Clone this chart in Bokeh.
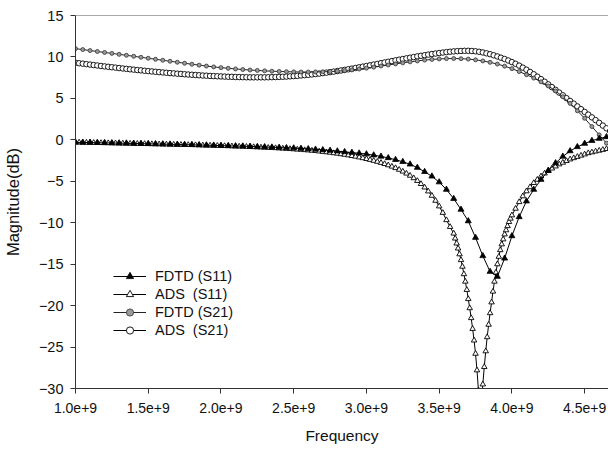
import numpy as np
from bokeh.plotting import figure
from bokeh.models import FixedTicker, Span, Legend, LegendItem
from bokeh.embed import file_html
from bokeh.resources import INLINE

# ---------------- data ----------------
# frequency grids (GHz)
freq_fdtd_ghz = np.round(np.linspace(1.0, 4.7, 75), 3)
freq_ads_s21_ghz = np.round(np.linspace(1.0, 4.7, 149), 3)
freq_ads_s11_ghz = np.round(np.concatenate([
    np.linspace(1.0, 3.575, 104),
    np.linspace(3.60, 3.99, 40),
    np.linspace(4.0, 4.7, 29),
]), 3)

fdtd_s11 = [
    -0.30, -0.32, -0.33, -0.35, -0.37, -0.38, -0.40, -0.42, -0.44, -0.46,
    -0.48, -0.50, -0.52, -0.54, -0.56, -0.58, -0.60, -0.62, -0.65, -0.67,
    -0.70, -0.72, -0.75, -0.77, -0.80, -0.83, -0.86, -0.90, -0.93, -0.97,
    -1.00, -1.05, -1.10, -1.16, -1.22, -1.29, -1.37, -1.45, -1.53, -1.62,
    -1.72, -1.85, -2.00, -2.18, -2.40, -2.65, -2.95, -3.35, -3.85, -4.40,
    -5.10, -6.00, -7.10, -8.40, -9.80, -11.80, -14.00, -15.90, -16.50, -14.30,
    -11.60, -9.30, -7.40, -6.00, -4.80, -3.70, -2.80, -2.00, -1.35, -0.85,
    -0.45, -0.10, 0.15, 0.35, 0.50,
]

ads_s11 = [
    -0.30, -0.31, -0.32, -0.33,
    -0.34, -0.35, -0.36, -0.37,
    -0.38, -0.39, -0.40, -0.41,
    -0.42, -0.43, -0.44, -0.45,
    -0.46, -0.47, -0.48, -0.49,
    -0.50, -0.51, -0.52, -0.53,
    -0.54, -0.55, -0.56, -0.57,
    -0.58, -0.59, -0.60, -0.61,
    -0.62, -0.63, -0.64, -0.66,
    -0.67, -0.68, -0.70, -0.71,
    -0.72, -0.74, -0.75, -0.77,
    -0.78, -0.80, -0.81, -0.83,
    -0.85, -0.87, -0.89, -0.91,
    -0.93, -0.95, -0.97, -0.99,
    -1.02, -1.04, -1.07, -1.10,
    -1.13, -1.16, -1.19, -1.23,
    -1.26, -1.30, -1.34, -1.39,
    -1.44, -1.49, -1.54, -1.60,
    -1.66, -1.72, -1.79, -1.86,
    -1.94, -2.02, -2.11, -2.20,
    -2.30, -2.41, -2.52, -2.64,
    -2.77, -2.91, -3.06, -3.22,
    -3.40, -3.60, -3.82, -4.06,
    -4.32, -4.62, -4.95, -5.32,
    -5.74, -6.21, -6.74, -7.34,
    -8.02, -8.80, -9.68, -10.50,
    -11.3, -11.9, -12.5, -13.1, -13.8, -14.5, -15.3, -16.2, -17.1, -18.1,
    -19.2, -20.3, -21.5, -22.8, -24.2, -25.8, -27.8, -30.2, -32.5, -32.0,
    -29.5, -27.4, -25.5, -23.8, -22.3, -20.9, -19.6, -18.3, -17.1, -16.0,
    -15.0, -14.1, -13.3, -12.6, -12.0, -11.4, -10.9, -10.4, -9.9, -9.5,
    -9.1, -8.3, -7.5, -6.8,
    -6.2, -5.7, -5.2, -4.8,
    -4.4, -4.05, -3.75, -3.45,
    -3.2, -2.95, -2.75, -2.55,
    -2.35, -2.2, -2.05, -1.9,
    -1.75, -1.6, -1.5, -1.4,
    -1.3, -1.2, -1.1, -1.0,
    -0.9,
]

fdtd_s21 = [
    11.00, 10.89, 10.77, 10.66, 10.54, 10.43, 10.31, 10.20, 10.08, 9.96,
    9.84, 9.72, 9.60, 9.48, 9.36, 9.24, 9.12, 9.01, 8.90, 8.80,
    8.71, 8.63, 8.55, 8.48, 8.42, 8.37, 8.32, 8.28, 8.25, 8.22,
    8.20, 8.18, 8.18, 8.19, 8.21, 8.24, 8.28, 8.35, 8.44, 8.54,
    8.65, 8.77, 8.90, 9.03, 9.16, 9.29, 9.41, 9.52, 9.62, 9.70,
    9.76, 9.80, 9.81, 9.79, 9.74, 9.65, 9.52, 9.35, 9.14, 8.89,
    8.59, 8.24, 7.86, 7.45, 7.00, 6.50, 5.90, 5.20, 4.40, 3.50,
    2.60, 1.60, 0.60, -0.40, -1.40,
]

ads_s21 = [
    9.30, 9.24, 9.19, 9.13,
    9.08, 9.02, 8.97, 8.91,
    8.86, 8.81, 8.76, 8.71,
    8.66, 8.61, 8.56, 8.51,
    8.47, 8.42, 8.38, 8.33,
    8.29, 8.25, 8.21, 8.17,
    8.13, 8.09, 8.05, 8.02,
    7.98, 7.95, 7.91, 7.88,
    7.85, 7.82, 7.79, 7.76,
    7.74, 7.71, 7.69, 7.67,
    7.65, 7.63, 7.61, 7.60,
    7.58, 7.57, 7.56, 7.55,
    7.54, 7.54, 7.54, 7.54,
    7.54, 7.55, 7.56, 7.57,
    7.59, 7.61, 7.63, 7.66,
    7.69, 7.72, 7.76, 7.80,
    7.84, 7.89, 7.94, 7.99,
    8.05, 8.11, 8.17, 8.23,
    8.30, 8.37, 8.44, 8.51,
    8.59, 8.67, 8.75, 8.83,
    8.91, 8.99, 9.08, 9.16,
    9.25, 9.33, 9.42, 9.50,
    9.59, 9.67, 9.75, 9.83,
    9.91, 9.99, 10.07, 10.14,
    10.21, 10.28, 10.35, 10.41,
    10.47, 10.53, 10.58, 10.63,
    10.67, 10.70, 10.72, 10.74,
    10.74, 10.72, 10.68, 10.62,
    10.54, 10.44, 10.33, 10.20,
    10.06, 9.91, 9.75, 9.57,
    9.38, 9.17, 8.95, 8.71,
    8.46, 8.19, 7.91, 7.62,
    7.32, 7.01, 6.69, 6.36,
    6.03, 5.70, 5.37, 5.03,
    4.69, 4.36, 4.03, 3.70,
    3.37, 3.04, 2.71, 2.38,
    2.05, 1.72, 1.39, 1.06,
    0.73,
]

x_tick_values = [1.0e9, 1.5e9, 2.0e9, 2.5e9, 3.0e9, 3.5e9, 4.0e9, 4.5e9]
x_tick_labels = ["1.0e+9", "1.5e+9", "2.0e+9", "2.5e+9", "3.0e+9", "3.5e+9", "4.0e+9", "4.5e+9"]
y_tick_values = [-30, -25, -20, -15, -10, -5, 0, 5, 10, 15]
series_labels = ["FDTD (S11)", "ADS  (S11)", "FDTD (S21)", "ADS  (S21)"]

# ---------------- figure ----------------
FONT = "Liberation Sans"
p = figure(width=608, height=450, x_range=(1.0e9, 4.664e9), y_range=(-30, 15),
           output_backend="svg", toolbar_location=None,
           min_border_left=73, min_border_right=0, min_border_top=15, min_border_bottom=62)
p.outline_line_color = None
p.grid.visible = False
p.background_fill_color = "white"

fx = freq_fdtd_ghz * 1e9
ax11 = freq_ads_s11_ghz * 1e9
ax21 = freq_ads_s21_ghz * 1e9

# ADS first (underneath)
l_a21 = p.line(ax21, ads_s21, line_color="black", line_width=1)
m_a21 = p.scatter(ax21, ads_s21, marker="circle", size=5.5, fill_color="white",
                  line_color="black", line_width=0.9)
l_a11 = p.line(ax11, ads_s11, line_color="black", line_width=1)
m_a11 = p.scatter(ax11, ads_s11, marker="triangle", size=5.5, fill_color="white",
                  line_color="black", line_width=0.9)
l_f21 = p.line(fx, fdtd_s21, line_color="#222", line_width=1)
m_f21 = p.scatter(fx, fdtd_s21, marker="circle", size=4, fill_color="#9a9a9a",
                  line_color="#333", line_width=0.8)
l_f11 = p.line(fx, fdtd_s11, line_color="black", line_width=1)
m_f11 = p.scatter(fx, fdtd_s11, marker="triangle", size=6, fill_color="black",
                  line_color="black", line_width=0.8)

p.add_layout(Span(location=15, dimension="width", line_color="#555", line_width=1))

# axes
p.xaxis.ticker = FixedTicker(ticks=x_tick_values)
p.xaxis.major_label_overrides = dict(zip(x_tick_values, x_tick_labels))
p.yaxis.ticker = FixedTicker(ticks=y_tick_values)
for ax in (p.xaxis[0], p.yaxis[0]):
    ax.axis_line_color = "#333"
    ax.major_tick_line_color = "#333"
    ax.major_tick_out = 5
    ax.major_tick_in = 0
    ax.minor_tick_line_color = None
    ax.major_label_text_font = FONT
    ax.major_label_text_color = "#111"
    ax.axis_label_text_font = FONT
    ax.axis_label_text_font_style = "normal"
    ax.axis_label_text_color = "#111"
p.xaxis.major_label_text_font_size = "14px"
p.yaxis.major_label_text_font_size = "14.5px"
p.xaxis.axis_label_text_font_size = "15.5px"
p.yaxis.axis_label_text_font_size = "16.5px"
p.xaxis.axis_label = "Frequency"
p.yaxis.axis_label = "Magnitude(dB)"
p.xaxis.major_label_standoff = 9
p.xaxis.axis_label_standoff = 11
p.yaxis.major_label_standoff = 7
p.yaxis.axis_label_standoff = 14

legend = Legend(items=[
    LegendItem(label=series_labels[0], renderers=[l_f11, m_f11]),
    LegendItem(label=series_labels[1], renderers=[l_a11, m_a11]),
    LegendItem(label=series_labels[2], renderers=[l_f21, m_f21]),
    LegendItem(label=series_labels[3], renderers=[l_a21, m_a21]),
], location=(38, 49))
legend.background_fill_alpha = 0
legend.border_line_color = None
legend.padding = 0
legend.margin = 0
legend.spacing = 0
legend.glyph_width = 33
legend.glyph_height = 18
legend.label_height = 18
legend.label_standoff = 9
legend.label_text_font = FONT
legend.label_text_font_size = "14.5px"
legend.label_text_color = "#111"
p.add_layout(legend)

open("out.html", "w").write(file_html(p, INLINE))
